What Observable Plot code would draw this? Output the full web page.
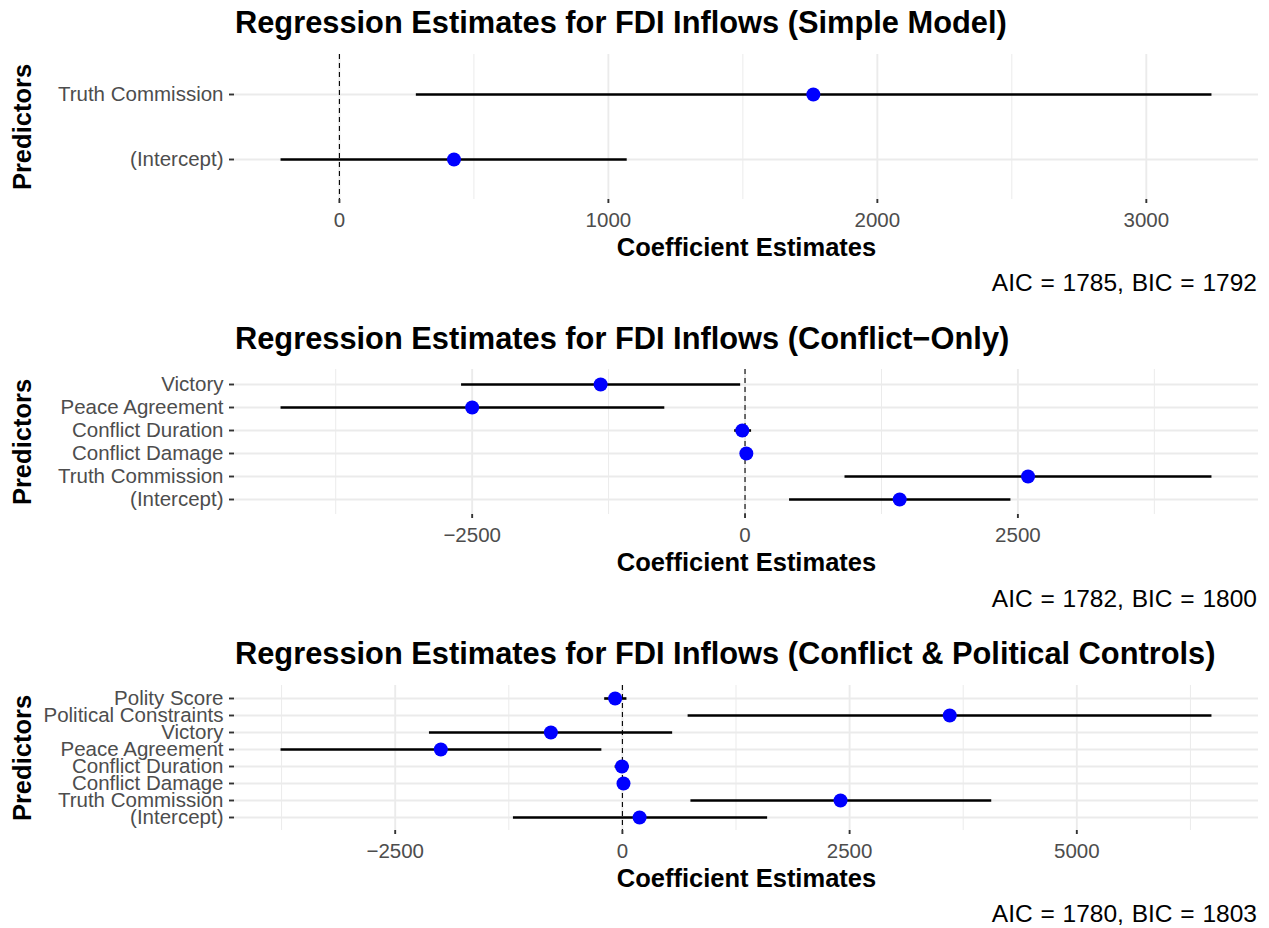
<!DOCTYPE html>
<html>
<head>
<meta charset="utf-8">
<script src="https://cdn.jsdelivr.net/npm/d3@7"></script>
<script src="https://cdn.jsdelivr.net/npm/@observablehq/plot@0.6"></script>
<style>
  html, body { margin: 0; padding: 0; background: #ffffff; }
  #chart { position: relative; width: 1269px; height: 928px; overflow: hidden; background: #ffffff;
           font-family: "Liberation Sans", Arial, Helvetica, sans-serif; }
  .ttl { position: absolute; left: 235px; font-weight: bold; font-size: 30.8px; line-height: 30.8px; color: #000; white-space: nowrap; }
  .cap { position: absolute; right: 12px; font-size: 24.5px; line-height: 24.5px; color: #000; white-space: nowrap; word-spacing: 1px; }
  .pnl { position: absolute; left: 0; }
</style>
</head>
<body>
<div id="chart"></div>
<script>
// ---------- Data ----------
// Panel 1: Simple Model (top-to-bottom order)
const terms1 = ["Truth Commission", "(Intercept)"];
const est1   = [1762, 426];
const lower1 = [286, -217];
const upper1 = [3244, 1070];
const ticks1 = [0, 1000, 2000, 3000];
const minor1 = [500, 1500, 2500];
const title1 = "Regression Estimates for FDI Inflows (Simple Model)";
const caption1 = "AIC = 1785, BIC = 1792";

// Panel 2: Conflict-Only
const terms2 = ["Victory", "Peace Agreement", "Conflict Duration", "Conflict Damage", "Truth Commission", "(Intercept)"];
const est2   = [-1323, -2500, -25, 12, 2593, 1417];
const lower2 = [-2597, -4251, -95, 0, 916, 408];
const upper2 = [-40, -735, 60, 25, 4278, 2436];
const ticks2 = [-2500, 0, 2500];
const minor2 = [-3750, -1250, 1250, 3750];
const title2 = "Regression Estimates for FDI Inflows (Conflict\u2212Only)";
const caption2 = "AIC = 1782, BIC = 1800";

// Panel 3: Conflict & Political Controls
const terms3 = ["Polity Score", "Political Constraints", "Victory", "Peace Agreement", "Conflict Duration", "Conflict Damage", "Truth Commission", "(Intercept)"];
const est3   = [-80, 3602, -787, -1998, -5, 12, 2400, 189];
const lower3 = [-195, 723, -2123, -3756, -80, 2, 754, -1199];
const upper3 = [50, 6487, 553, -226, 75, 22, 4064, 1598];
const ticks3 = [-2500, 0, 2500, 5000];
const minor3 = [-3750, -1250, 1250, 3750, 6250];
const title3 = "Regression Estimates for FDI Inflows (Conflict & Political Controls)";
const caption3 = "AIC = 1780, BIC = 1803";

const xLabel = "Coefficient Estimates";
const yLabel = "Predictors";

// ---------- Layout ----------
const W = 1269;
const PANEL_H = 145;
const MT = 12, MB = 62, ML = 234, MR = 11;
const panelTops = [53.5, 369, 684.5];

const fmt = d => d < 0 ? "\u2212" + Math.abs(d) : String(d);

function makePanel(terms, est, lower, upper, ticks, minor) {
  const data = terms.map((t, i) => ({term: t, estimate: est[i], lower: lower[i], upper: upper[i]}));
  const xmin = d3.min(lower), xmax = d3.max(upper);
  const pad = 0.05 * (xmax - xmin);
  return Plot.plot({
    width: W,
    height: MT + PANEL_H + MB,
    marginTop: MT, marginBottom: MB, marginLeft: ML, marginRight: MR,
    style: {fontFamily: "'Liberation Sans', Arial, Helvetica, sans-serif", fontSize: "20.5px", background: "transparent", overflow: "visible"},
    x: {domain: [xmin - pad, xmax + pad]},
    y: {type: "point", domain: terms, padding: 0.6},
    marks: [
      Plot.ruleX(minor, {stroke: "#EBEBEB", strokeWidth: 1}),
      Plot.ruleX(ticks, {stroke: "#EBEBEB", strokeWidth: 1.9}),
      Plot.ruleY(terms, {stroke: "#EBEBEB", strokeWidth: 1.9}),
      Plot.ruleX([0], {stroke: "#000", strokeWidth: 1.1, strokeDasharray: "5,4"}),
      Plot.ruleY(data, {y: "term", x1: "lower", x2: "upper", stroke: "#000", strokeWidth: 2.6}),
      Plot.dot(data, {x: "estimate", y: "term", r: 7, fill: "#0000FF", stroke: "none"}),
      Plot.axisX({ticks: ticks, tickSize: 4, tickPadding: 9, tickFormat: fmt, stroke: "#333333", strokeWidth: 1.9, fill: "#4D4D4D", label: null}),
      Plot.axisY({tickSize: 5, tickPadding: 6, stroke: "#333333", strokeWidth: 1.9, fill: "#4D4D4D", label: null}),
      Plot.text([xLabel], {frameAnchor: "bottom", dy: 48, lineAnchor: "middle", fontWeight: "bold", fontSize: 25.5, fill: "#000"}),
      Plot.text([yLabel], {frameAnchor: "left", dx: -212, rotate: -90, textAnchor: "middle", lineAnchor: "middle", fontWeight: "bold", fontSize: 25.5, fill: "#000"})
    ]
  });
}

const chart = document.getElementById("chart");
const panels = [
  [terms1, est1, lower1, upper1, ticks1, minor1, title1, caption1],
  [terms2, est2, lower2, upper2, ticks2, minor2, title2, caption2],
  [terms3, est3, lower3, upper3, ticks3, minor3, title3, caption3]
];

panels.forEach((p, i) => {
  const top = panelTops[i];
  const svg = makePanel(p[0], p[1], p[2], p[3], p[4], p[5]);
  svg.classList.add("pnl");
  svg.style.top = (top - MT) + "px";
  chart.appendChild(svg);

  const t = document.createElement("div");
  t.className = "ttl";
  t.textContent = p[6];
  t.style.top = (top - 45.1) + "px";
  chart.appendChild(t);

  const c = document.createElement("div");
  c.className = "cap";
  c.textContent = p[7];
  c.style.top = (top + PANEL_H + 72.5) + "px";
  chart.appendChild(c);
});
</script>
</body>
</html>
